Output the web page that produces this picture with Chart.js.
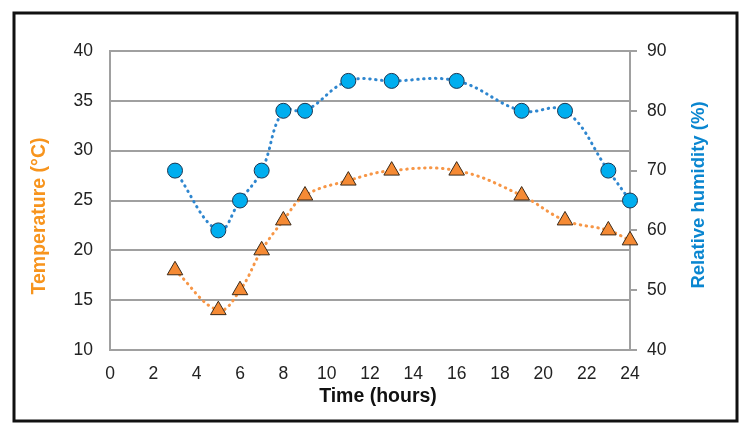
<!DOCTYPE html>
<html>
<head>
<meta charset="utf-8">
<script src="https://cdn.jsdelivr.net/npm/chart.js@4"></script>
<style>
  html, body { margin: 0; padding: 0; background: #fff; }
  #wrap { width: 747px; height: 433px; position: relative; }
</style>
</head>
<body>
<div id="wrap"><canvas id="chart" width="747" height="433"></canvas></div>
<script>
// Dados
const hours = [3, 5, 6, 7, 8, 9, 11, 13, 16, 19, 21, 23, 24];
const temperature = [18, 14, 16, 20, 23, 25.5, 27, 28, 28, 25.5, 23, 22, 21];
const humidity = [70, 60, 65, 70, 80, 80, 85, 85, 85, 80, 80, 70, 65];
const xTicks = [0, 2, 4, 6, 8, 10, 12, 14, 16, 18, 20, 22, 24];
const tempTicks = [10, 15, 20, 25, 30, 35, 40];
const humTicks = [40, 50, 60, 70, 80, 90];

const FONT = "'Liberation Sans', Arial, sans-serif";
const ORANGE = "#F7941D";
const BLUE = "#0A86D0";

// Moldura e títulos desenhados à mão
const framePlugin = {
  id: "frame",
  afterDraw(chart) {
    const ctx = chart.ctx;
    ctx.save();
    ctx.strokeStyle = "#111";
    ctx.lineWidth = 3;
    ctx.strokeRect(14, 13, 723, 408);

    ctx.textAlign = "center";
    ctx.textBaseline = "middle";

    ctx.save();
    ctx.font = "bold 19.5px " + FONT;
    ctx.translate(40, 216);
    ctx.rotate(-Math.PI / 2);
    ctx.fillStyle = ORANGE;
    ctx.fillText("Temperature (°C)", 0, 0);
    ctx.restore();

    ctx.save();
    ctx.font = "bold 18.5px " + FONT;
    ctx.translate(699, 195);
    ctx.rotate(-Math.PI / 2);
    ctx.fillStyle = BLUE;
    ctx.fillText("Relative humidity (%)", 0, 0);
    ctx.restore();

    ctx.font = "bold 19.5px " + FONT;
    ctx.fillStyle = "#111";
    ctx.fillText("Time (hours)", 378, 397);
    ctx.restore();
  },
};

const ctx = document.getElementById("chart").getContext("2d");
const chart = new Chart(ctx, {
  type: "line",
  data: {
    datasets: [
      {
        label: "Temperature",
        data: hours.map((h, i) => ({ x: h, y: temperature[i] })),
        yAxisID: "yTemp",
        borderColor: "#F79646",
        borderWidth: 3,
        borderDash: [0.5, 5.5],
        borderCapStyle: "round",
        tension: 0.4,
        clip: false,
        pointStyle: "triangle",
        pointRadius: 9,
        pointBackgroundColor: "#F58A34",
        pointBorderColor: "#3a2a1a",
        pointBorderWidth: 1,
      },
      {
        label: "Relative humidity",
        data: hours.map((h, i) => ({ x: h, y: humidity[i] })),
        yAxisID: "yHum",
        borderColor: "#2E86CF",
        borderWidth: 3,
        borderDash: [0.5, 5.5],
        borderCapStyle: "round",
        tension: 0.4,
        clip: false,
        pointStyle: "circle",
        pointRadius: 7.5,
        pointBackgroundColor: "#00AEEF",
        pointBorderColor: "#1c3550",
        pointBorderWidth: 1,
      },
    ],
  },
  options: {
    responsive: false,
    animation: false,
    layout: { padding: { top: 51, left: 0, right: 0, bottom: 0 } },
    plugins: {
      legend: { display: false },
      tooltip: { enabled: false },
    },
    scales: {
      x: {
        type: "linear",
        min: 0,
        max: 24,
        afterBuildTicks: (s) => { s.ticks = xTicks.map((v) => ({ value: v })); },
        afterFit: (s) => { s.height = 83; },
        grid: { display: false, drawTicks: false },
        border: { display: false },
        ticks: {
          padding: 14,
          maxRotation: 0,
          autoSkip: false,
          color: "#222",
          font: { family: FONT, size: 17.5 },
        },
      },
      yTemp: {
        position: "left",
        min: 10,
        max: 40,
        afterBuildTicks: (s) => { s.ticks = tempTicks.map((v) => ({ value: v })); },
        afterFit: (s) => { s.width = 110; },
        grid: { color: "#A0A0A0", lineWidth: 2, drawTicks: false },
        border: { display: true, color: "#A0A0A0", width: 2 },
        ticks: {
          padding: 17,
          color: "#222",
          font: { family: FONT, size: 17.5 },
        },
      },
      yHum: {
        position: "right",
        min: 40,
        max: 90,
        afterBuildTicks: (s) => { s.ticks = humTicks.map((v) => ({ value: v })); },
        afterFit: (s) => { s.width = 117; },
        grid: {
          drawOnChartArea: false,
          drawTicks: true,
          tickLength: 7,
          color: "#A0A0A0",
          lineWidth: 2,
        },
        border: { display: true, color: "#A0A0A0", width: 2 },
        ticks: {
          padding: 10,
          color: "#222",
          font: { family: FONT, size: 17.5 },
        },
      },
    },
  },
  plugins: [framePlugin],
});
</script>
</body>
</html>
